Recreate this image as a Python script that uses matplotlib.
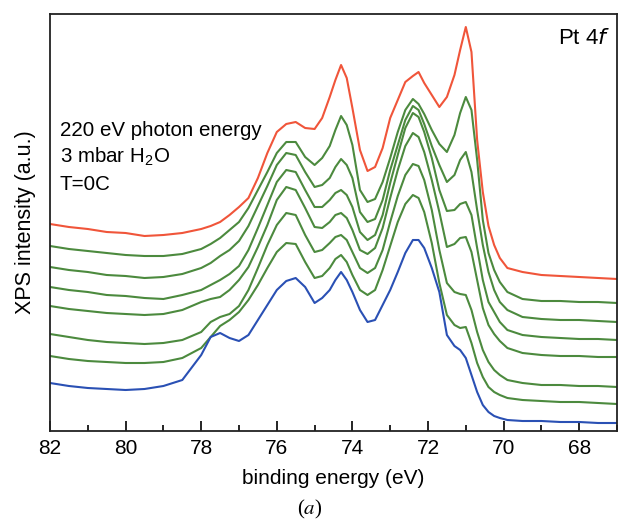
import numpy as np
import matplotlib
matplotlib.use('Agg')
import matplotlib.pyplot as plt
from matplotlib.ticker import MultipleLocator

plt.rcParams['font.family'] = ['Liberation Sans', 'DejaVu Sans']

# binding energy grid (eV), shared by all spectra
energy = [82, 81.5, 81, 80.5, 80, 79.5, 79, 78.5, 78, 77.75, 77.5, 77.25, 77, 76.75,
          76.5, 76.25, 76, 75.75, 75.5, 75.25, 75, 74.8, 74.6, 74.45, 74.3, 74.15, 74,
          73.8, 73.6, 73.4, 73.2, 73, 72.8, 72.6, 72.4, 72.25, 72.1, 71.9, 71.7, 71.5,
          71.3, 71.15, 71, 70.85, 70.7, 70.55, 70.4, 70.25, 70.1, 69.9, 69.5, 69, 68.5,
          68, 67.5, 67]

# stacked spectra, top to bottom (offset already included)
spec_top = [208, 205, 203, 200, 199, 196, 197, 199, 203, 206, 210, 217, 225, 234, 254,
            279, 300, 308, 310, 304, 303, 314, 335, 352, 367, 354, 324, 282, 261, 265,
            284, 314, 332, 350, 356, 360, 349, 337, 325, 335, 357, 382, 405, 380, 292,
            240, 206, 187, 174, 164, 160, 157, 156, 155, 154, 153]
spec_g1 = [186, 183, 181, 179, 177, 176, 176, 178, 183, 188, 194, 202, 210, 224, 242,
           260, 279, 290, 290, 275, 267, 274, 286, 302, 316, 307, 287, 242, 230, 233,
           250, 274, 300, 322, 333, 328, 318, 302, 288, 280, 297, 319, 335, 322, 272,
           212, 179, 162, 150, 140, 133, 131, 131, 130, 130, 129]
spec_g2 = [165, 162, 160, 157, 156, 154, 155, 158, 164, 169, 176, 182, 191, 206, 226,
           246, 267, 279, 277, 260, 245, 247, 254, 265, 273, 267, 254, 220, 210, 213,
           232, 262, 287, 312, 326, 322, 308, 286, 267, 250, 257, 272, 280, 260, 222,
           187, 160, 142, 130, 122, 115, 113, 112, 112, 111, 110]
spec_g3 = [145, 142, 140, 137, 136, 134, 133, 137, 142, 147, 152, 158, 166, 182, 204,
           227, 250, 262, 260, 242, 225, 225, 232, 239, 242, 237, 225, 200, 192, 197,
           217, 249, 277, 304, 319, 315, 300, 274, 242, 221, 222, 228, 230, 217, 184,
           152, 130, 120, 110, 102, 97, 95, 94, 93, 93, 92]
spec_g4 = [126, 123, 121, 119, 118, 117, 118, 122, 130, 133, 135, 142, 152, 165, 185,
           207, 232, 245, 242, 224, 205, 204, 210, 217, 219, 214, 202, 182, 178, 184,
           204, 234, 262, 286, 299, 295, 280, 252, 220, 185, 188, 194, 195, 180, 152,
           124, 107, 98, 91, 84, 79, 77, 76, 76, 75, 75]
spec_g5 = [98, 95, 92, 90, 89, 88, 89, 92, 100, 110, 115, 118, 126, 142, 164, 187, 207,
           219, 217, 197, 180, 182, 189, 195, 197, 192, 180, 164, 159, 164, 182, 210,
           236, 257, 268, 266, 252, 222, 182, 149, 140, 138, 137, 122, 100, 82, 70, 62,
           57, 52, 49, 47, 47, 46, 46, 45]
spec_g6 = [76, 73, 71, 70, 69, 69, 70, 74, 84, 95, 106, 112, 120, 132, 147, 164, 180,
           189, 188, 170, 154, 156, 164, 173, 177, 170, 157, 142, 137, 142, 162, 186,
           210, 228, 237, 234, 220, 189, 149, 117, 107, 104, 105, 89, 69, 55, 45, 40,
           37, 34, 32, 31, 30, 30, 29, 28]
spec_bottom = [49, 46, 44, 43, 42, 43, 46, 52, 77, 95, 99, 94, 91, 97, 112, 127, 142,
               151, 154, 145, 129, 134, 142, 152, 160, 152, 140, 122, 110, 112, 127,
               142, 160, 179, 192, 192, 184, 164, 140, 97, 86, 82, 74, 57, 40, 27, 20,
               16, 14, 12, 11, 11, 10, 10, 9, 9]

red = '#f0553a'
green = '#4c8a3e'
blue = '#2a50b4'

fig = plt.figure(figsize=(6.19, 5.22), dpi=100)
ax = fig.add_axes([50 / 619, 1 - 431 / 522, 567 / 619, 417 / 522])

ax.plot(energy, spec_top, color=red, lw=1.5)
for s in [spec_g1, spec_g2, spec_g3, spec_g4, spec_g5, spec_g6]:
    ax.plot(energy, s, color=green, lw=1.5)
ax.plot(energy, spec_bottom, color=blue, lw=1.5)

ax.set_xlim(82, 67)
ax.set_ylim(1, 418)
ax.xaxis.set_major_locator(MultipleLocator(2))
ax.xaxis.set_minor_locator(MultipleLocator(1))
ax.tick_params(axis='x', which='major', direction='in', length=7, width=1.2,
               labelsize=15, pad=6)
ax.tick_params(axis='x', which='minor', direction='in', length=4, width=1.2)
ax.set_yticks([])
for sp in ax.spines.values():
    sp.set_linewidth(1.3)
    sp.set_color('#222222')

ax.set_xlabel('binding energy (eV)', fontsize=15, labelpad=8)
ax.set_ylabel('XPS intensity (a.u.)', fontsize=15.5, labelpad=10)

ax.text(60 / 619, 1 - 130 / 522, '220 eV photon energy', transform=fig.transFigure,
        fontsize=14.8, va='center', ha='left')
ax.text(60 / 619, 1 - 157 / 522, '3 mbar H$_\\mathregular{2}$O', transform=fig.transFigure,
        fontsize=14.8, va='center', ha='left')
ax.text(60 / 619, 1 - 185 / 522, 'T=0C', transform=fig.transFigure,
        fontsize=14.8, va='center', ha='left')
ax.text(610 / 619, 1 - 39 / 522, 'Pt 4$\\mathit{f}$', transform=fig.transFigure,
        fontsize=16, va='center', ha='right')

fig.text(310 / 619, 1 - 509 / 522, '($a$)', ha='center', va='center', fontsize=15,
         family='Liberation Serif', math_fontfamily='stix')

fig.savefig('out.png', dpi=100)
